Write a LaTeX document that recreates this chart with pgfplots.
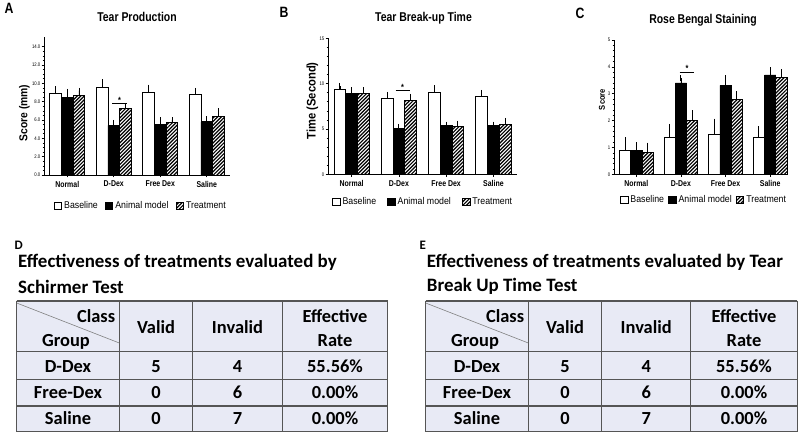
\documentclass[border=0pt]{standalone}
\usepackage{fontspec}
\setmainfont{Liberation Sans}
\newfontfamily\cf{Liberation Sans}[FakeStretch=0.82]
\newfontfamily\lf{Liberation Sans}[FakeStretch=0.9]
\newfontfamily\tf{Carlito}
\usepackage{pgfplots}
\usepackage{pgfplotstable}
\pgfplotsset{compat=1.18}
\usetikzlibrary{patterns}

\pgfdeclarepatternformonly{hatch}{\pgfqpoint{-1pt}{-1pt}}{\pgfqpoint{5pt}{5pt}}{\pgfqpoint{3.6pt}{3.6pt}}{%
  \pgfsetlinewidth{1.2pt}\pgfpathmoveto{\pgfqpoint{0pt}{0pt}}\pgfpathlineto{\pgfqpoint{3.7pt}{3.7pt}}\pgfusepath{stroke}}

\definecolor{tabfill}{RGB}{232,234,245}
\definecolor{tabline}{RGB}{85,85,85}

\pgfplotstableread{
x b be a ae t te
0 8.90 0.45 8.45 0.65 8.65 0.55
1 9.56 0.60 5.42 0.30 7.24 0.28
2 9.00 0.56 5.56 0.44 5.70 0.30
3 8.80 0.40 5.80 0.28 6.40 0.60
}\dataA
\pgfplotstableread{
x b be a ae t te
0 9.40 0.37 8.92 0.37 8.92 0.37
1 8.40 0.37 5.09 0.15 8.10 0.45
2 9.00 0.50 5.34 0.16 5.27 0.33
3 8.60 0.40 5.34 0.16 5.45 0.45
}\dataB
\pgfplotstableread{
x b be a ae t te
0 0.88 0.40 0.88 0.20 0.80 0.27
1 1.39 0.38 3.40 0.18 1.99 0.29
2 1.49 0.48 3.31 0.27 2.80 0.18
3 1.39 0.30 3.70 0.19 3.60 0.20
}\dataC

\pgfplotsset{
  leg/.style={legend image code/.code={\draw[##1,line width=0.9bp] (0bp,-3.8bp) rectangle (7.6bp,3.8bp);}},
  bbase/.style={draw=black, fill=white, line width=0.8bp, leg},
  banim/.style={draw=black, fill=black, line width=0.8bp, leg},
  btrt/.style={draw=black, pattern=hatch, line width=0.8bp, leg},
  panel/.style={
    scale only axis, ybar=0pt, xmin=-0.5,
    xtick={0,1,2,3}, xticklabels={Normal,D-Dex,Free Dex,Saline},
    axis x line=bottom, axis y line=left, axis line style={-,line width=0.8bp},
    tick align=outside, major tick length=2.5bp, minor tick length=1.4bp,
    every tick/.style={black, line width=0.6bp},
    xticklabel style={font=\cf\bfseries\fontsize{8.5}{8.5}\selectfont},
    yticklabel style={font=\cf\fontsize{5.2}{5.2}\selectfont, inner sep=1bp},
    ylabel style={anchor=center},
    legend columns=3,
    legend style={draw=none, fill=none, anchor=center, font=\lf\fontsize{9.8}{9.8}\selectfont,
      /tikz/every even column/.append style={column sep=5bp}},
    error bars/y dir=plus, error bars/y explicit,
    error bars/error bar style={black, line width=0.8bp},
    error bars/error mark options={black, mark size=2.8bp, line width=0.9bp},
    /pgf/number format/assume math mode=true,
  }
}

\newcommand{\efftable}[5]{%
  \fill[tabfill] (#1,134) rectangle (#5,3.3);
  \foreach \yy in {134,83.3,55.7,29,3.3} \draw[tabline, line width=1.4bp] (#1,\yy) -- (#5,\yy);
  \foreach \xx in {#1,#2,#3,#4,#5} \draw[tabline, line width=1.4bp] (\xx,134) -- (\xx,3.3);
  \draw[gray, line width=0.6bp] (#1,132) -- (#2,92);
  \node[tab, anchor=east] at ({#2-4},118.3) {Class};
  \node[tab] at ({(#1+#2)/2-2},94.3) {Group};
  \node[tab] at ({(#2+#3)/2},107) {Valid};
  \node[tab] at ({(#3+#4)/2},107) {Invalid};
  \node[tab] at ({(#4+#5)/2},118.3) {Effective};
  \node[tab] at ({(#4+#5)/2},94.3) {Rate};
  \node[tab] at ({(#1+#2)/2},68.5) {D-Dex};
  \node[tab] at ({(#1+#2)/2},42.3) {Free-Dex};
  \node[tab] at ({(#1+#2)/2},16.3) {Saline};
  \node[tab] at ({(#2+#3)/2},68.5) {5};
  \node[tab] at ({(#2+#3)/2},42.3) {0};
  \node[tab] at ({(#2+#3)/2},16.3) {0};
  \node[tab] at ({(#3+#4)/2},68.5) {4};
  \node[tab] at ({(#3+#4)/2},42.3) {6};
  \node[tab] at ({(#3+#4)/2},16.3) {7};
  \node[tab] at ({(#4+#5)/2},68.5) {55.56\%};
  \node[tab] at ({(#4+#5)/2},42.3) {0.00\%};
  \node[tab] at ({(#4+#5)/2},16.3) {0.00\%};
}

\begin{document}
\begin{tikzpicture}[x=1bp,y=1bp,
  tab/.style={font=\tf\bfseries\fontsize{18.5}{18.5}\selectfont, inner sep=0pt, text height=12bp, text depth=0bp, anchor=center}]
\path[use as bounding box] (0,0) rectangle (800,435);

% panel letters and titles
\node[font=\cf\bfseries\fontsize{15}{15}\selectfont] at (9,427) {A};
\node[font=\cf\bfseries\fontsize{15}{15}\selectfont] at (284,423) {B};
\node[font=\cf\bfseries\fontsize{15}{15}\selectfont] at (580,422) {C};
\node[font=\cf\bfseries\fontsize{12.8}{12.8}\selectfont] at (137,418) {Tear Production};
\node[font=\cf\bfseries\fontsize{12.8}{12.8}\selectfont] at (423.5,416.7) {Tear Break-up Time};
\node[font=\cf\bfseries\fontsize{12.8}{12.8}\selectfont] at (703,415) {Rose Bengal Staining};

% Panel A
\begin{axis}[panel, anchor=south west, at={(44bp,260bp)}, width=186bp, height=137.5bp, xmax=3.5,
  ymin=0, ymax=15, ytick={0,2,...,14}, minor y tick num=3, bar width=11.7bp,
  yticklabel style={/pgf/number format/.cd, fixed, fixed zerofill, precision=1},
  ylabel={Score (mm)}, ylabel style={at={(axis description cs:-0.105,0.45)}, font=\lf\bfseries\fontsize{11.5}{11.5}\selectfont},
  legend style={at={(0.52,-0.225)}}]
\addplot[bbase] table[x=x,y=b,y error=be]{\dataA};
\addplot[banim] table[x=x,y=a,y error=ae]{\dataA};
\addplot[btrt] table[x=x,y=t,y error=te]{\dataA};
\legend{Baseline,Animal model,Treatment}
\draw[line width=0.9bp] (axis cs:0.97,7.75) -- (axis cs:1.28,7.75);
\node[anchor=south, inner sep=0.5bp, font=\cf\bfseries\fontsize{9}{9}\selectfont] at (axis cs:1.125,7.75) {*};
\end{axis}

% Panel B
\begin{axis}[panel, anchor=south west, at={(328bp,260.7bp)}, width=189bp, height=136bp, xmax=3.5,
  ymin=0, ymax=15, ytick={0,5,10,15}, minor y tick num=4, bar width=11.7bp,
  ylabel={Time (Second)}, ylabel style={at={(axis description cs:-0.082,0.54)}, font=\lf\bfseries\fontsize{12.5}{12.5}\selectfont},
  legend style={at={(0.503,-0.204)}, /tikz/every even column/.append style={column sep=9bp}}]
\addplot[bbase] table[x=x,y=b,y error=be]{\dataB};
\addplot[banim] table[x=x,y=a,y error=ae]{\dataB};
\addplot[btrt] table[x=x,y=t,y error=te]{\dataB};
\legend{Baseline,Animal model,Treatment}
\draw[line width=0.9bp] (axis cs:0.93,9.2) -- (axis cs:1.23,9.2);
\node[anchor=south, inner sep=0.5bp, font=\cf\bfseries\fontsize{9}{9}\selectfont] at (axis cs:1.08,9.2) {*};
\end{axis}

% Panel C
\begin{axis}[panel, anchor=south west, at={(614bp,260.7bp)}, width=174bp, height=134.3bp, xmax=3.4,
  ymin=0, ymax=5, ytick={0,1,...,5}, minor y tick num=4, bar width=11.3bp,
  ylabel={Score}, ylabel style={at={(axis description cs:-0.069,0.557)}, font=\lf\bfseries\fontsize{8.5}{8.5}\selectfont},
  legend style={at={(0.517,-0.191)}, /tikz/every even column/.append style={column sep=2bp}}]
\addplot[bbase] table[x=x,y=b,y error=be]{\dataC};
\addplot[banim] table[x=x,y=a,y error=ae]{\dataC};
\addplot[btrt] table[x=x,y=t,y error=te]{\dataC};
\legend{Baseline,Animal model,Treatment}
\draw[line width=0.9bp] (axis cs:0.97,3.79) -- (axis cs:1.3,3.79);
\node[anchor=south, inner sep=0.5bp, font=\cf\bfseries\fontsize{9}{9}\selectfont] at (axis cs:1.135,3.79) {*};
\end{axis}

% Tables D and E
\node[anchor=west, font=\tf\bfseries\fontsize{13}{13}\selectfont] at (11,190) {D};
\node[anchor=west, font=\tf\bfseries\fontsize{19}{19}\selectfont, inner sep=0pt] at (18,172.3) {Effectiveness of treatments evaluated by};
\node[anchor=west, font=\tf\bfseries\fontsize{19}{19}\selectfont, inner sep=0pt] at (18,148.3) {Schirmer Test};
\efftable{16.7}{119.3}{192.7}{282.3}{387.7}

\node[anchor=west, font=\tf\bfseries\fontsize{13}{13}\selectfont] at (416,190) {E};
\node[anchor=west, font=\tf\bfseries\fontsize{19}{19}\selectfont, inner sep=0pt] at (426.7,172.3) {Effectiveness of treatments evaluated by Tear};
\node[anchor=west, font=\tf\bfseries\fontsize{19}{19}\selectfont, inner sep=0pt] at (426.7,148.3) {Break Up Time Test};
\efftable{425.7}{528.3}{601.7}{690.7}{797.3}
\end{tikzpicture}
\end{document}
